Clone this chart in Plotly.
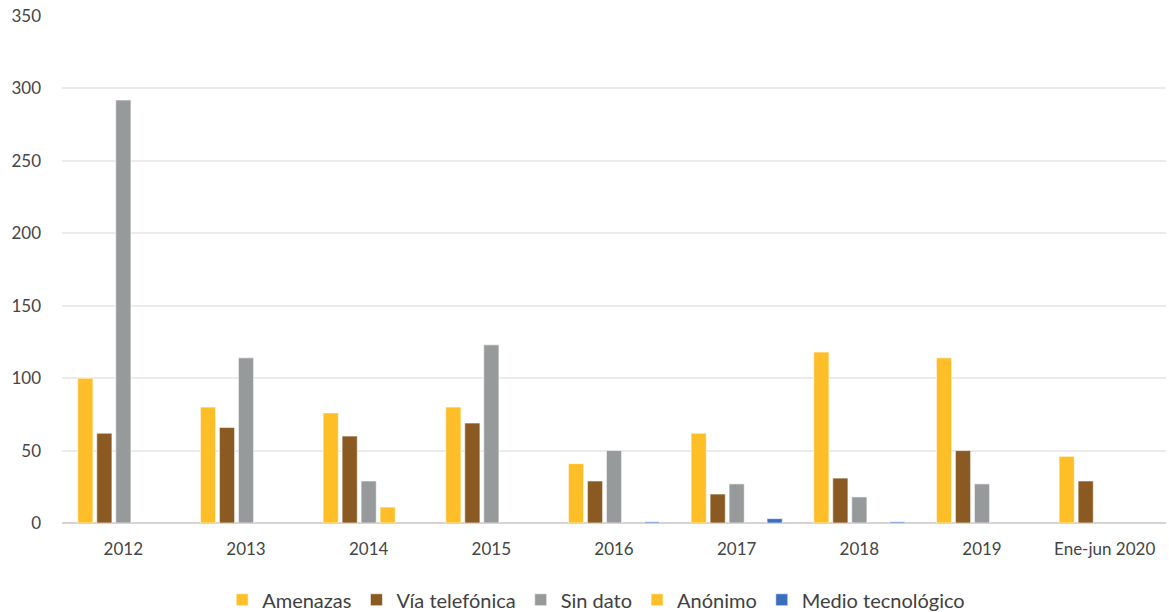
import plotly.graph_objects as go

categories = ["2012", "2013", "2014", "2015", "2016", "2017", "2018", "2019", "Ene-jun 2020"]
amenazas = [100, 80, 76, 80, 41, 62, 118, 114, 46]
via_telefonica = [62, 66, 60, 69, 29, 20, 31, 50, 29]
sin_dato = [292, 114, 29, 123, 50, 27, 18, 27, None]
anonimo = [None, None, 11, None, None, None, None, None, None]
medio_tecnologico = [None, None, None, None, 0.8, 3, 0.8, None, None]
tick_vals = [0, 50, 100, 150, 200, 250, 300, 350]

series = [
    ("Amenazas", amenazas, "#FDBE28"),
    ("Vía telefónica", via_telefonica, "#8A5A22"),
    ("Sin dato", sin_dato, "#979A9A"),
    ("Anónimo", anonimo, "#FDBE28"),
    ("Medio tecnológico", medio_tecnologico, "#3A6EBF"),
]

fig = go.Figure()
for name, vals, color in series:
    fig.add_trace(go.Bar(
        x=categories, y=vals, name=name,
        marker=dict(color=color, line=dict(color="rgba(255,255,255,0.6)", width=1)),
    ))

font_family = "Lato, 'Open Sans', sans-serif"
fig.update_layout(
    width=1169, height=612,
    margin=dict(l=62, r=3, t=16, b=89, autoexpand=False),
    paper_bgcolor="white", plot_bgcolor="white",
    barmode="group", bargap=0.226, bargroupgap=0.2,
    font=dict(family=font_family, color="#454545", size=17),
    showlegend=True,
    legend=dict(orientation="h", x=0.51, xanchor="center", xref="container",
                y=0.02, yanchor="middle", yref="container",
                font=dict(size=20, color="#404040"), itemwidth=30,
                traceorder="normal"),
    xaxis=dict(showgrid=False, showline=False, ticks="", tickfont=dict(size=17),
               ticklabelstandoff=14, automargin=False),
    yaxis=dict(range=[0, 350], tickvals=tick_vals, showgrid=True, gridcolor="#EBEBEB",
               gridwidth=1.5, zeroline=True, zerolinecolor="#D4D4D4", zerolinewidth=2,
               ticks="", tickfont=dict(size=17), ticklabelstandoff=20, fixedrange=True,
               automargin=False),
)
fig.write_html("out.html", config={"displayModeBar": False},
               post_script="document.body.style.margin='0';document.body.style.overflow='hidden';")
